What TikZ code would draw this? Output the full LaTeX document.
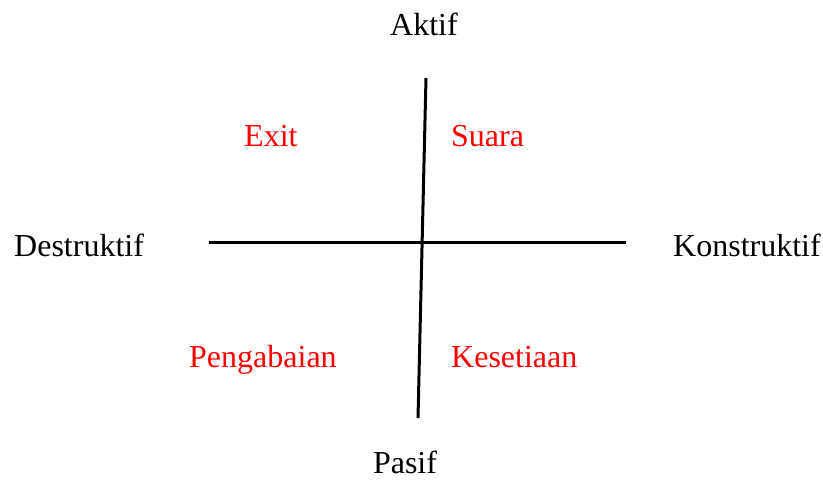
\documentclass[tikz,border=0pt]{standalone}
\usepackage{fontspec}
\setmainfont{Liberation Serif}
\begin{document}
\begin{tikzpicture}[x=1pt,y=-1pt,
  lbl/.style={font=\fontsize{32}{36}\selectfont, inner sep=0pt, anchor=base west},
  red lbl/.style={lbl, text=red},
  axis/.style={line width=3pt, black}]
\useasboundingbox (0,0) rectangle (823,480);
\coordinate (vt) at (426,78);
\coordinate (vb) at (418,418);
\coordinate (hl) at (209,242);
\coordinate (hr) at (626,242);
\draw[axis] (vt) -- (vb);
\draw[axis] (hl) -- (hr);
\node[lbl, anchor=base] (aktif) at (424,35) {Aktif};
\node[lbl, anchor=base] (pasif) at (405,473) {Pasif};
\node[lbl] (des) at (14,256) {Destruktif};
\node[lbl] (kon) at (673,256) {Konstruktif};
\node[red lbl] (exit) at (244,146) {Exit};
\node[red lbl] (suara) at (451,146) {Suara};
\node[red lbl] (peng) at (189,367) {Pengabaian};
\node[red lbl] (kes) at (451,367) {Kesetiaan};
\end{tikzpicture}
\end{document}
